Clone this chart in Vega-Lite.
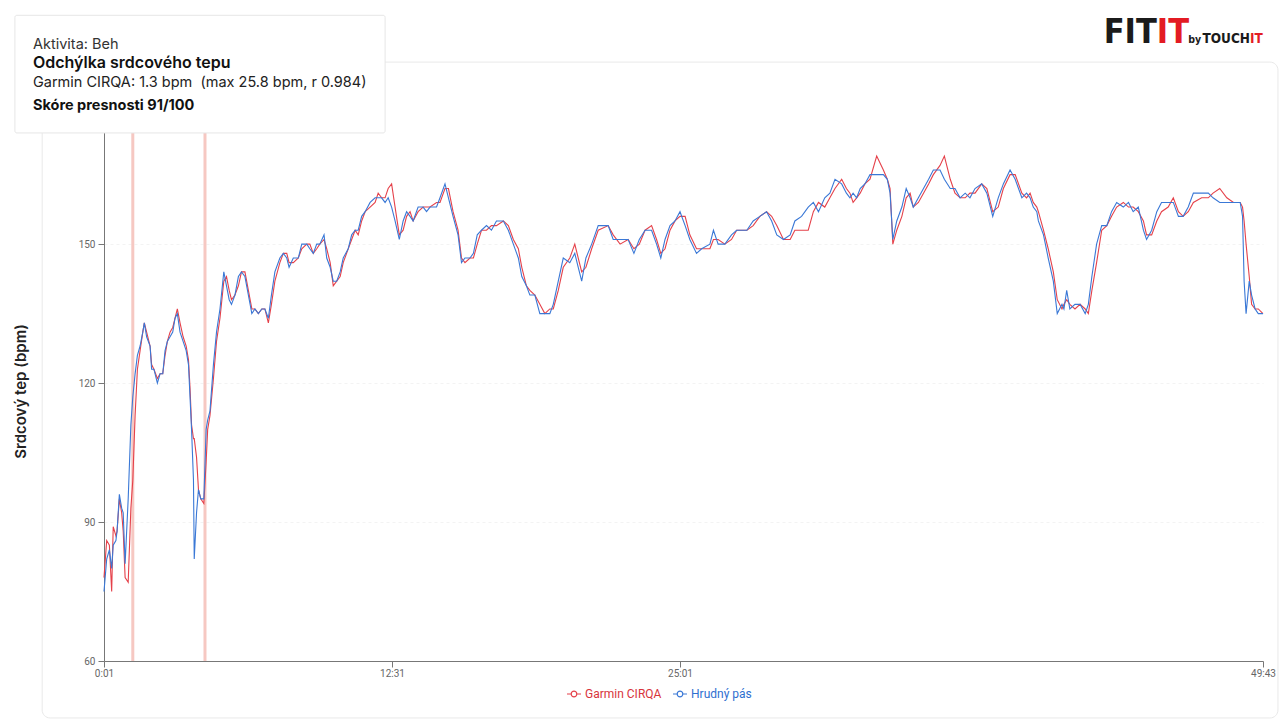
{
  "$schema": "https://vega.github.io/schema/vega-lite/v6.json",
  "width": 1159,
  "height": 579,
  "autosize": "none",
  "padding": {"left": 104, "top": 82, "right": 17, "bottom": 59},
  "background": "#ffffff",
  "config": {
    "view": {"stroke": null},
    "font": "Inter",
    "axis": {
      "labelFont": "Roboto",
      "labelFontSize": 10,
      "labelColor": "#666666",
      "domainColor": "#777777",
      "tickColor": "#777777",
      "tickSize": 6,
      "labelPadding": 3
    }
  },
  "layer": [
    {
      "data": {"values": [{}]},
      "mark": {"type": "rect", "fill": "transparent", "stroke": "#e9e9e9", "strokeWidth": 1, "cornerRadius": 8, "clip": false},
      "encoding": {
        "x": {"datum": -160, "type": "quantitative"},
        "x2": {"datum": 3021},
        "y": {"datum": 189.3, "type": "quantitative"},
        "y2": {"datum": 47.7}
      }
    },
    {
      "data": {"values": [{"t": 76}, {"t": 264}]},
      "mark": {"type": "rule", "color": "#f6c8c2", "strokeWidth": 3},
      "encoding": {
        "x": {"field": "t", "type": "quantitative"}
      }
    },
    {
      "data": {
        "values": [
          {"t": 1, "h": 75, "g": 78}, {"t": 8, "h": 82, "g": 86}, {"t": 15, "h": 84, "g": 85}, {"t": 21, "h": 80, "g": 75},
          {"t": 25, "h": 85, "g": 89}, {"t": 32, "h": 86, "g": 87}, {"t": 35, "h": 88, "g": 88}, {"t": 41, "h": 96, "g": 95},
          {"t": 47, "h": 93, "g": 92}, {"t": 51, "h": 92, "g": 88}, {"t": 56, "h": 81, "g": 78}, {"t": 64, "h": 95, "g": 77},
          {"t": 71, "h": 111, "g": 93}, {"t": 76, "h": 117, "g": 99}, {"t": 82, "h": 122, "g": 113}, {"t": 88, "h": 126, "g": 123},
          {"t": 95, "h": 128, "g": 127}, {"t": 102, "h": 131, "g": 131}, {"t": 106, "h": 133, "g": 133}, {"t": 112, "h": 130, "g": 131},
          {"t": 121, "h": 128, "g": 128}, {"t": 125, "h": 123, "g": 124}, {"t": 131, "h": 123, "g": 123}, {"t": 140, "h": 120, "g": 121},
          {"t": 147, "h": 122, "g": 122}, {"t": 154, "h": 122, "g": 122}, {"t": 160, "h": 127, "g": 126}, {"t": 166, "h": 129, "g": 129},
          {"t": 173, "h": 130, "g": 131}, {"t": 180, "h": 131, "g": 132}, {"t": 186, "h": 134, "g": 134}, {"t": 192, "h": 135, "g": 136},
          {"t": 199, "h": 131, "g": 133}, {"t": 207, "h": 129, "g": 130}, {"t": 215, "h": 127, "g": 128}, {"t": 221, "h": 124, "g": 125},
          {"t": 225, "h": 117, "g": 119}, {"t": 229, "h": 110, "g": 111}, {"t": 234, "h": 99, "g": 108}, {"t": 236, "h": 82, "g": 108},
          {"t": 242, "h": 92, "g": 104}, {"t": 247, "h": 97, "g": 97}, {"t": 253, "h": 95, "g": 95}, {"t": 261, "h": 95, "g": 94},
          {"t": 267, "h": 110, "g": 103}, {"t": 271, "h": 112, "g": 110}, {"t": 277, "h": 114, "g": 113}, {"t": 286, "h": 124, "g": 121},
          {"t": 294, "h": 131, "g": 129}, {"t": 303, "h": 136, "g": 134}, {"t": 308, "h": 140, "g": 138}, {"t": 313, "h": 144, "g": 142},
          {"t": 320, "h": 141, "g": 143}, {"t": 327, "h": 138, "g": 140}, {"t": 333, "h": 137, "g": 138}, {"t": 342, "h": 139, "g": 139},
          {"t": 351, "h": 143, "g": 141}, {"t": 359, "h": 144, "g": 144}, {"t": 368, "h": 143, "g": 144}, {"t": 377, "h": 139, "g": 140},
          {"t": 386, "h": 135, "g": 136}, {"t": 394, "h": 136, "g": 136}, {"t": 403, "h": 135, "g": 135}, {"t": 412, "h": 136, "g": 136},
          {"t": 420, "h": 136, "g": 136}, {"t": 429, "h": 134, "g": 133}, {"t": 437, "h": 139, "g": 137}, {"t": 446, "h": 144, "g": 142},
          {"t": 459, "h": 147, "g": 146}, {"t": 468, "h": 148, "g": 148}, {"t": 477, "h": 147, "g": 148}, {"t": 483, "h": 145, "g": 146},
          {"t": 494, "h": 147, "g": 146}, {"t": 507, "h": 147, "g": 147}, {"t": 516, "h": 150, "g": 149}, {"t": 529, "h": 150, "g": 150},
          {"t": 537, "h": 149, "g": 150}, {"t": 546, "h": 148, "g": 148}, {"t": 555, "h": 150, "g": 149}, {"t": 563, "h": 150, "g": 150},
          {"t": 574, "h": 152, "g": 151}, {"t": 581, "h": 147, "g": 149}, {"t": 590, "h": 145, "g": 146}, {"t": 598, "h": 142, "g": 141},
          {"t": 607, "h": 142, "g": 142}, {"t": 616, "h": 144, "g": 143}, {"t": 624, "h": 147, "g": 146}, {"t": 637, "h": 149, "g": 149},
          {"t": 646, "h": 152, "g": 151}, {"t": 655, "h": 153, "g": 153}, {"t": 663, "h": 153, "g": 152}, {"t": 672, "h": 156, "g": 155},
          {"t": 681, "h": 157, "g": 157}, {"t": 694, "h": 159, "g": 158}, {"t": 707, "h": 160, "g": 159}, {"t": 715, "h": 160, "g": 161},
          {"t": 724, "h": 160, "g": 160}, {"t": 733, "h": 159, "g": 160}, {"t": 741, "h": 160, "g": 162}, {"t": 750, "h": 158, "g": 163},
          {"t": 759, "h": 155, "g": 158}, {"t": 770, "h": 151, "g": 152}, {"t": 780, "h": 155, "g": 153}, {"t": 789, "h": 157, "g": 156},
          {"t": 798, "h": 156, "g": 157}, {"t": 806, "h": 155, "g": 155}, {"t": 819, "h": 158, "g": 157}, {"t": 832, "h": 158, "g": 158},
          {"t": 841, "h": 157, "g": 158}, {"t": 850, "h": 158, "g": 158}, {"t": 867, "h": 158, "g": 159}, {"t": 876, "h": 160, "g": 159},
          {"t": 889, "h": 163, "g": 162}, {"t": 898, "h": 160, "g": 162}, {"t": 910, "h": 156, "g": 157}, {"t": 923, "h": 152, "g": 153},
          {"t": 932, "h": 146, "g": 147}, {"t": 941, "h": 147, "g": 146}, {"t": 954, "h": 147, "g": 147}, {"t": 963, "h": 148, "g": 147},
          {"t": 973, "h": 152, "g": 150}, {"t": 984, "h": 153, "g": 153}, {"t": 997, "h": 154, "g": 153}, {"t": 1010, "h": 153, "g": 154},
          {"t": 1023, "h": 155, "g": 154}, {"t": 1041, "h": 155, "g": 155}, {"t": 1054, "h": 153, "g": 154}, {"t": 1067, "h": 150, "g": 151},
          {"t": 1080, "h": 147, "g": 149}, {"t": 1089, "h": 143, "g": 145}, {"t": 1101, "h": 141, "g": 141}, {"t": 1110, "h": 139, "g": 140},
          {"t": 1123, "h": 139, "g": 139}, {"t": 1136, "h": 135, "g": 137}, {"t": 1149, "h": 135, "g": 135}, {"t": 1162, "h": 135, "g": 136},
          {"t": 1171, "h": 137, "g": 136}, {"t": 1184, "h": 142, "g": 140}, {"t": 1197, "h": 147, "g": 145}, {"t": 1214, "h": 146, "g": 147},
          {"t": 1227, "h": 148, "g": 150}, {"t": 1236, "h": 145, "g": 147}, {"t": 1245, "h": 142, "g": 144}, {"t": 1256, "h": 147, "g": 145},
          {"t": 1271, "h": 150, "g": 149}, {"t": 1288, "h": 154, "g": 153}, {"t": 1314, "h": 154, "g": 154}, {"t": 1327, "h": 151, "g": 152},
          {"t": 1345, "h": 151, "g": 150}, {"t": 1366, "h": 151, "g": 151}, {"t": 1381, "h": 148, "g": 149}, {"t": 1395, "h": 151, "g": 150},
          {"t": 1410, "h": 153, "g": 153}, {"t": 1427, "h": 153, "g": 154}, {"t": 1440, "h": 150, "g": 151}, {"t": 1451, "h": 147, "g": 148},
          {"t": 1462, "h": 151, "g": 149}, {"t": 1475, "h": 154, "g": 153}, {"t": 1488, "h": 155, "g": 155}, {"t": 1501, "h": 157, "g": 156},
          {"t": 1514, "h": 154, "g": 156}, {"t": 1526, "h": 151, "g": 152}, {"t": 1543, "h": 148, "g": 149}, {"t": 1556, "h": 149, "g": 149},
          {"t": 1577, "h": 150, "g": 149}, {"t": 1586, "h": 153, "g": 151}, {"t": 1598, "h": 150, "g": 151}, {"t": 1615, "h": 150, "g": 150},
          {"t": 1632, "h": 152, "g": 151}, {"t": 1645, "h": 153, "g": 153}, {"t": 1671, "h": 153, "g": 153}, {"t": 1687, "h": 155, "g": 154},
          {"t": 1704, "h": 156, "g": 156}, {"t": 1721, "h": 157, "g": 157}, {"t": 1734, "h": 155, "g": 156}, {"t": 1747, "h": 152, "g": 154},
          {"t": 1764, "h": 151, "g": 151}, {"t": 1781, "h": 152, "g": 151}, {"t": 1793, "h": 155, "g": 153}, {"t": 1810, "h": 156, "g": 153},
          {"t": 1827, "h": 158, "g": 153}, {"t": 1840, "h": 159, "g": 157}, {"t": 1853, "h": 157, "g": 159}, {"t": 1869, "h": 160, "g": 158},
          {"t": 1882, "h": 161, "g": 160}, {"t": 1895, "h": 164, "g": 162}, {"t": 1912, "h": 163, "g": 164}, {"t": 1924, "h": 161, "g": 162},
          {"t": 1933, "h": 160, "g": 161}, {"t": 1941, "h": 161, "g": 159}, {"t": 1950, "h": 160, "g": 160}, {"t": 1959, "h": 162, "g": 161},
          {"t": 1971, "h": 163, "g": 163}, {"t": 1984, "h": 165, "g": 164}, {"t": 2001, "h": 165, "g": 169}, {"t": 2018, "h": 165, "g": 166},
          {"t": 2028, "h": 164, "g": 164}, {"t": 2035, "h": 161, "g": 162}, {"t": 2042, "h": 151, "g": 150}, {"t": 2052, "h": 155, "g": 153},
          {"t": 2065, "h": 158, "g": 156}, {"t": 2076, "h": 162, "g": 160}, {"t": 2086, "h": 160, "g": 161}, {"t": 2094, "h": 158, "g": 158},
          {"t": 2107, "h": 160, "g": 159}, {"t": 2120, "h": 162, "g": 161}, {"t": 2133, "h": 164, "g": 163}, {"t": 2145, "h": 166, "g": 165},
          {"t": 2162, "h": 166, "g": 167}, {"t": 2173, "h": 164, "g": 169}, {"t": 2188, "h": 162, "g": 164}, {"t": 2200, "h": 162, "g": 161},
          {"t": 2213, "h": 160, "g": 160}, {"t": 2226, "h": 161, "g": 160}, {"t": 2238, "h": 160, "g": 161}, {"t": 2251, "h": 162, "g": 161},
          {"t": 2268, "h": 163, "g": 163}, {"t": 2281, "h": 161, "g": 162}, {"t": 2296, "h": 156, "g": 157}, {"t": 2310, "h": 160, "g": 158},
          {"t": 2323, "h": 163, "g": 162}, {"t": 2340, "h": 166, "g": 165}, {"t": 2353, "h": 164, "g": 165}, {"t": 2370, "h": 160, "g": 161},
          {"t": 2382, "h": 161, "g": 160}, {"t": 2391, "h": 160, "g": 161}, {"t": 2399, "h": 158, "g": 159}, {"t": 2408, "h": 157, "g": 158},
          {"t": 2412, "h": 155, "g": 157}, {"t": 2425, "h": 152, "g": 153}, {"t": 2437, "h": 147, "g": 149}, {"t": 2450, "h": 142, "g": 144},
          {"t": 2460, "h": 135, "g": 138}, {"t": 2472, "h": 137, "g": 136}, {"t": 2477, "h": 136, "g": 137}, {"t": 2484, "h": 140, "g": 138},
          {"t": 2492, "h": 136, "g": 137}, {"t": 2505, "h": 137, "g": 136}, {"t": 2518, "h": 137, "g": 137}, {"t": 2531, "h": 135, "g": 136},
          {"t": 2539, "h": 137, "g": 135}, {"t": 2548, "h": 143, "g": 140}, {"t": 2560, "h": 150, "g": 146}, {"t": 2573, "h": 154, "g": 153},
          {"t": 2586, "h": 154, "g": 154}, {"t": 2598, "h": 157, "g": 156}, {"t": 2611, "h": 159, "g": 158}, {"t": 2628, "h": 158, "g": 159},
          {"t": 2641, "h": 159, "g": 158}, {"t": 2653, "h": 157, "g": 158}, {"t": 2666, "h": 158, "g": 157}, {"t": 2679, "h": 153, "g": 155},
          {"t": 2687, "h": 151, "g": 152}, {"t": 2700, "h": 153, "g": 152}, {"t": 2713, "h": 157, "g": 155}, {"t": 2725, "h": 159, "g": 157},
          {"t": 2742, "h": 159, "g": 158}, {"t": 2755, "h": 159, "g": 160}, {"t": 2768, "h": 156, "g": 157}, {"t": 2780, "h": 156, "g": 156},
          {"t": 2793, "h": 158, "g": 157}, {"t": 2806, "h": 161, "g": 159}, {"t": 2827, "h": 161, "g": 160}, {"t": 2844, "h": 161, "g": 160},
          {"t": 2856, "h": 160, "g": 161}, {"t": 2873, "h": 159, "g": 162}, {"t": 2891, "h": 159, "g": 160}, {"t": 2908, "h": 159, "g": 159},
          {"t": 2925, "h": 159, "g": 159}, {"t": 2931, "h": 156, "g": 158}, {"t": 2935, "h": 142, "g": 155}, {"t": 2940, "h": 135, "g": 150},
          {"t": 2948, "h": 142, "g": 143}, {"t": 2954, "h": 139, "g": 137}, {"t": 2963, "h": 136, "g": 136}, {"t": 2971, "h": 135, "g": 136},
          {"t": 2983, "h": 135, "g": 135}
        ]
      },
      "transform": [{"fold": ["g", "h"], "as": ["zariadenie", "bpm"]}],
      "mark": {"type": "line", "strokeWidth": 1.1},
      "encoding": {
        "x": {
          "field": "t",
          "type": "quantitative",
          "scale": {"domain": [1, 1501, 2983], "range": [0, 576, 1159], "nice": false, "zero": false},
          "axis": {
            "title": null,
            "grid": false,
            "values": [1, 751, 1501, 2983],
            "labelFlush": false,
            "labelPadding": 1,
            "labelExpr": "floor(datum.value / 60) + ':' + (datum.value % 60 < 10 ? '0' : '') + (datum.value % 60)",
            "encode": {"labels": {"update": {"dx": {"signal": "datum.value > 2900 ? -9 : 0"}}}}
          }
        },
        "y": {
          "field": "bpm",
          "type": "quantitative",
          "scale": {"domain": [60, 185], "nice": false, "zero": false},
          "axis": {
            "title": "Srdcový tep (bpm)",
            "values": [60, 90, 120, 150],
            "grid": true,
            "gridColor": "#f3f3f3",
            "gridDash": [3, 3],
            "titleFont": "Inter",
            "titleFontSize": 15,
            "titleFontWeight": 600,
            "titleColor": "#222222",
            "titleAngle": 270,
            "titleX": -84,
            "titleY": 309,
            "titleAlign": "center",
            "titleBaseline": "middle"
          }
        },
        "color": {
          "field": "zariadenie",
          "type": "nominal",
          "scale": {"domain": ["g", "h"], "range": ["#e5414a", "#3a78d6"]},
          "legend": {
            "title": null,
            "orient": "none",
            "direction": "horizontal",
            "legendX": 462,
            "legendY": 604,
            "symbolType": "M-1,0L-0.4,0M0.4,0L1,0M0.4,0A0.4,0.4 0 1,1 -0.4,0A0.4,0.4 0 1,1 0.4,0Z",
            "symbolSize": 196,
            "symbolStrokeWidth": 1.2,
            "labelFont": "Roboto",
            "labelFontSize": 12,
            "labelOffset": 3,
            "columnPadding": 8,
            "labelExpr": "datum.value === 'g' ? 'Garmin CIRQA' : 'Hrudný pás'",
            "encode": {"labels": {"update": {"fill": {"signal": "datum.value === 'g' ? '#d8343c' : '#2f6fd0'"}}}}
          }
        }
      }
    },
    {
      "data": {"values": [{}]},
      "mark": {"type": "rect", "fill": "#ffffff", "stroke": "#e6e6e6", "strokeWidth": 1, "cornerRadius": 2, "clip": false},
      "encoding": {
        "x": {"datum": -231, "type": "quantitative"},
        "x2": {"datum": 733},
        "y": {"datum": 199.4, "type": "quantitative"},
        "y2": {"datum": 174}
      }
    },
    {
      "data": {"values": [{"label": "Aktivita: Beh"}]},
      "mark": {"type": "text", "align": "left", "baseline": "alphabetic", "font": "Inter", "fontSize": 14.5, "color": "#333333", "clip": false},
      "encoding": {
        "text": {"field": "label"},
        "x": {"datum": -184, "type": "quantitative"},
        "y": {"datum": 192.1, "type": "quantitative"}
      }
    },
    {
      "data": {"values": [{"label": "Odchýlka srdcového tepu"}]},
      "mark": {"type": "text", "align": "left", "baseline": "alphabetic", "font": "Inter", "fontSize": 16, "fontWeight": 600, "color": "#111111", "clip": false},
      "encoding": {
        "text": {"field": "label"},
        "x": {"datum": -184, "type": "quantitative"},
        "y": {"datum": 188.0, "type": "quantitative"}
      }
    },
    {
      "data": {"values": [{"label": "Garmin CIRQA: 1.3 bpm\u00a0 (max 25.8 bpm, r 0.984)"}]},
      "mark": {"type": "text", "align": "left", "baseline": "alphabetic", "font": "Inter", "fontSize": 14.5, "color": "#222222", "clip": false},
      "encoding": {
        "text": {"field": "label"},
        "x": {"datum": -184, "type": "quantitative"},
        "y": {"datum": 183.85, "type": "quantitative"}
      }
    },
    {
      "data": {"values": [{"label": "Skóre presnosti 91/100"}]},
      "mark": {"type": "text", "align": "left", "baseline": "alphabetic", "font": "Inter", "fontSize": 14.5, "fontWeight": 700, "color": "#111111", "clip": false},
      "encoding": {
        "text": {"field": "label"},
        "x": {"datum": -184, "type": "quantitative"},
        "y": {"datum": 178.96, "type": "quantitative"}
      }
    },
    {
      "data": {"values": [{"label": "FIT"}]},
      "mark": {"type": "text", "align": "right", "baseline": "alphabetic", "font": "DejaVu Sans Condensed", "fontSize": 34, "fontWeight": "bold", "color": "#1b1b1b", "clip": false},
      "encoding": {
        "text": {"field": "label"},
        "x": {"datum": 2713, "type": "quantitative"},
        "y": {"datum": 193.4, "type": "quantitative"}
      }
    },
    {
      "data": {"values": [{"label": "IT"}]},
      "mark": {"type": "text", "align": "left", "baseline": "alphabetic", "font": "DejaVu Sans Condensed", "fontSize": 34, "fontWeight": "bold", "color": "#e31b23", "clip": false},
      "encoding": {
        "text": {"field": "label"},
        "x": {"datum": 2713, "type": "quantitative"},
        "y": {"datum": 193.4, "type": "quantitative"}
      }
    },
    {
      "data": {"values": [{"label": "by"}]},
      "mark": {"type": "text", "align": "right", "baseline": "alphabetic", "font": "DejaVu Sans Condensed", "fontSize": 10.5, "fontWeight": "bold", "color": "#1b1b1b", "clip": false},
      "encoding": {
        "text": {"field": "label"},
        "x": {"datum": 2826, "type": "quantitative"},
        "y": {"datum": 193.4, "type": "quantitative"}
      }
    },
    {
      "data": {"values": [{"label": "TOUCH"}]},
      "mark": {"type": "text", "align": "right", "baseline": "alphabetic", "font": "DejaVu Sans Condensed", "fontSize": 13.5, "fontWeight": "bold", "color": "#1b1b1b", "clip": false},
      "encoding": {
        "text": {"field": "label"},
        "x": {"datum": 2950, "type": "quantitative"},
        "y": {"datum": 193.4, "type": "quantitative"}
      }
    },
    {
      "data": {"values": [{"label": "IT"}]},
      "mark": {"type": "text", "align": "left", "baseline": "alphabetic", "font": "DejaVu Sans Condensed", "fontSize": 13.5, "fontWeight": "bold", "color": "#e31b23", "clip": false},
      "encoding": {
        "text": {"field": "label"},
        "x": {"datum": 2950, "type": "quantitative"},
        "y": {"datum": 193.4, "type": "quantitative"}
      }
    }
  ]
}
